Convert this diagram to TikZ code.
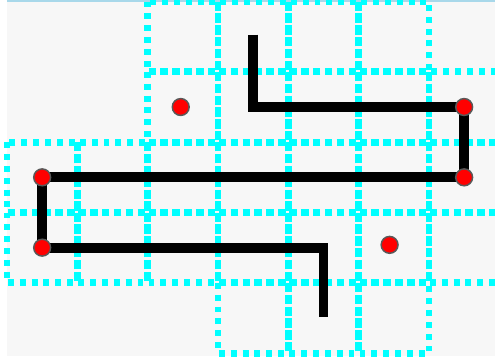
\documentclass[tikz,border=0pt]{standalone}
\usepackage{xcolor}
\usepackage{tikz}
\definecolor{boardgray}{HTML}{F7F7F7}
\definecolor{edgeblue}{HTML}{A8D8EA}
\definecolor{gridcyan}{RGB}{0,255,255}
\definecolor{dotred}{RGB}{255,0,0}

\begin{document}
\begin{tikzpicture}[
    x=1cm, y=-1cm,
    cell/.style={draw=gridcyan, line width=2.8pt, dash pattern=on 2.4pt off 2.4pt},
    route/.style={draw=black, line width=4pt, line join=miter},
    dot/.style={circle, fill=dotred, draw=black!65, line width=0.6pt, minimum size=0.24cm, inner sep=0pt}
]
    \useasboundingbox (-0.0995,-0.0213) rectangle (6.9387,5.097);
    \fill [boardgray] (0,-0.0213) rectangle (6.9387,5.04);
    \draw [edgeblue, line width=0.8pt] (0,-0.01) -- (6.9387,-0.01);

    % grid cells
    \foreach \col/\row in {2/0,3/0,4/0,5/0,
                           2/1,3/1,4/1,5/1,6/1,
                           0/2,1/2,2/2,3/2,4/2,5/2,6/2,
                           0/3,1/3,2/3,3/3,4/3,5/3,6/3,
                           3/4,4/4,5/4}
        \draw [cell] (\col,\row) rectangle ++(1,1);

    % route
    \coordinate (start) at (3.5,0.47);
    \coordinate (bendA) at (3.5,1.5);
    \coordinate (turnA) at (6.5,1.5);
    \coordinate (turnB) at (6.5,2.5);
    \coordinate (turnC) at (0.5,2.5);
    \coordinate (turnD) at (0.5,3.5);
    \coordinate (bendB) at (4.5,3.5);
    \coordinate (finish) at (4.5,4.49);
    \draw [route] (start) -- (bendA) -- (turnA) -- (turnB) -- (turnC) -- (turnD) -- (bendB) -- (finish);

    \node [dot] (dotA) at (turnA) {};
    \node [dot] (dotB) at (turnB) {};
    \node [dot] (dotC) at (turnC) {};
    \node [dot] (dotD) at (turnD) {};
    \node [dot] (lone1) at (2.47,1.5) {};
    \node [dot] (lone2) at (5.44,3.46) {};
\end{tikzpicture}
\end{document}
